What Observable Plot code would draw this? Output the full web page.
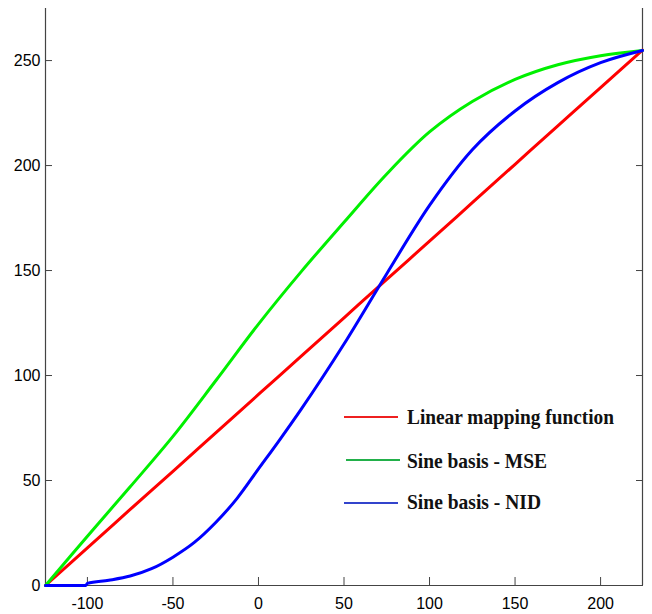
<!DOCTYPE html>
<html>
<head>
<meta charset="utf-8">
<script src="https://cdn.jsdelivr.net/npm/d3@7"></script>
<script src="https://cdn.jsdelivr.net/npm/@observablehq/plot@0.6"></script>
<style>
  html, body { margin: 0; padding: 0; background: #fff; }
  #wrap { position: relative; width: 652px; height: 614px; }
  #legend { position: absolute; left: 0; top: 0; pointer-events: none; }
</style>
</head>
<body>
<div id="wrap"></div>
<script>
// ---- data ----
const xValues = [-124.5, -100, -75, -50, -25, 0, 25, 50, 75, 100, 125, 150, 175, 200, 224.5];
const linearMapping = [0, 17.9, 36.2, 54.4, 72.7, 91, 109.2, 127.5, 145.8, 164, 182.3, 200.6, 218.9, 237.1, 255];
const sineMSE = [0, 23.5, 47, 71, 97.5, 124.5, 149.5, 173, 196, 216, 230.5, 241, 248, 252.3, 254.8];
const xValuesNID = [-124.5, -101, -100, -87.5, -75, -62.5, -50, -37.5, -25, -12.5, 0, 12.5, 25, 50, 75, 100, 125, 150, 175, 200, 224.5];
const sineNID = [0, 0, 1, 2.5, 4.5, 8, 13.5, 20.5, 30, 41.5, 55.5, 69.5, 84, 115, 148.5, 181, 207.5, 226, 239.5, 249, 254.8];
const seriesNames = ["Linear mapping function", "Sine basis - MSE", "Sine basis - NID"];
const xTicks = [-100, -50, 0, 50, 100, 150, 200];
const yTicks = [0, 50, 100, 150, 200, 250];
const xDomain = [-124.5, 224.5];
const yDomain = [0, 274.8];

const lineColors = ["#ff0000", "#00f000", "#0000ff"];
const legendColors = ["#ee2020", "#22b04a", "#3344cc"];
const axisColor = "#444";

const rows = (xs, ys, name) => xs.map((x, i) => ({x, y: ys[i], name}));
const lin = rows(xValues, linearMapping, seriesNames[0]);
const mse = rows(xValues, sineMSE, seriesNames[1]);
const nid = rows(xValuesNID, sineNID, seriesNames[2]);

const blank = () => "";
const plain = d => String(d);

const chart = Plot.plot({
  width: 652,
  height: 614,
  marginLeft: 45,
  marginRight: 10,
  marginTop: 8,
  marginBottom: 29,
  style: {fontFamily: "'Liberation Sans', Arial, sans-serif", fontSize: "16px", color: "#000", background: "#fff"},
  x: {domain: xDomain},
  y: {domain: yDomain},
  marks: [
    // inward ticks
    Plot.axisX({ticks: xTicks, tickSize: 8, dy: -8, tickFormat: blank, label: null, stroke: axisColor}),
    Plot.axisY({ticks: yTicks, tickSize: 7, dx: 7, tickFormat: blank, label: null, stroke: axisColor}),
    Plot.axisY({anchor: "right", ticks: yTicks, tickSize: 7, dx: -7, tickFormat: blank, label: null, stroke: axisColor}),
    // tick labels
    Plot.axisX({ticks: xTicks, tickSize: 0, tickPadding: 12, tickFormat: plain, label: null, fill: "#000"}),
    Plot.axisY({ticks: yTicks, tickSize: 0, tickPadding: 5, tickFormat: plain, label: null, fill: "#000"}),
    // axis lines (left, right, bottom)
    Plot.ruleX(xDomain, {stroke: axisColor, strokeWidth: 1.2}),
    Plot.ruleY([yDomain[0]], {stroke: axisColor, strokeWidth: 1.2}),
    // curves
    Plot.line(lin, {x: "x", y: "y", stroke: lineColors[0], strokeWidth: 3, curve: "catmull-rom"}),
    Plot.line(mse, {x: "x", y: "y", stroke: lineColors[1], strokeWidth: 3, curve: "catmull-rom"}),
    Plot.line(nid, {x: "x", y: "y", stroke: lineColors[2], strokeWidth: 3, curve: "monotone-x"})
  ]
});
const wrap = document.getElementById("wrap");
wrap.appendChild(chart);

// legend overlay
const legendRows = [
  {name: seriesNames[0], color: legendColors[0], lineY: 417, textY: 424, x1: 344, x2: 398, len: 207},
  {name: seriesNames[1], color: legendColors[1], lineY: 460, textY: 468, x1: 346, x2: 400, len: 140},
  {name: seriesNames[2], color: legendColors[2], lineY: 503, textY: 509, x1: 344, x2: 398, len: 134}
];
const svg = d3.select(wrap).append("svg")
  .attr("id", "legend").attr("width", 652).attr("height", 614);
const g = svg.selectAll("g").data(legendRows).join("g");
g.append("line")
  .attr("x1", d => d.x1).attr("x2", d => d.x2)
  .attr("y1", d => d.lineY).attr("y2", d => d.lineY)
  .attr("stroke", d => d.color).attr("stroke-width", 2);
g.append("text")
  .attr("x", 407).attr("y", d => d.textY)
  .attr("font-family", "'Liberation Serif', 'Times New Roman', serif")
  .attr("font-weight", "bold")
  .attr("font-size", 21)
  .attr("fill", "#111")
  .attr("textLength", d => d.len)
  .attr("lengthAdjust", "spacingAndGlyphs")
  .text(d => d.name);
</script>
</body>
</html>
